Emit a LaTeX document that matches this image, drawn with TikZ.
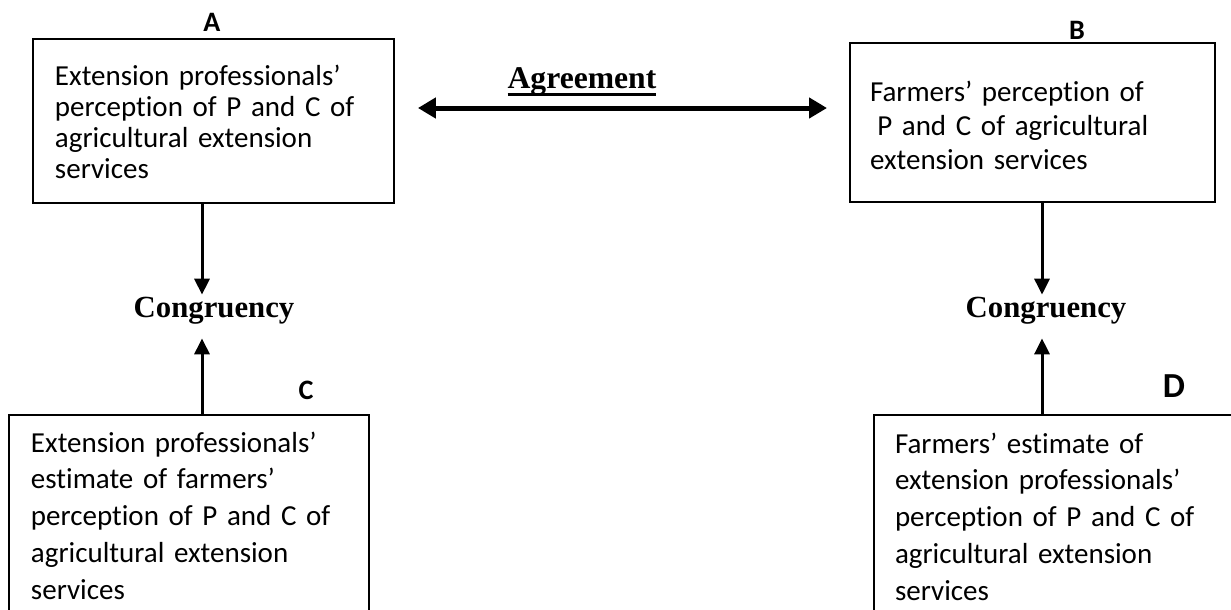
\documentclass[tikz,border=0pt]{standalone}
\usepackage{fontspec}
\setmainfont[Ligatures=NoCommon, WordSpace=0.8]{Carlito}
\newfontfamily\timesfont{Liberation Serif}
\usetikzlibrary{arrows.meta}
\newcommand{\thickul}[1]{\setbox0\hbox{#1}\rlap{\rule[-0.16cm]{\wd0}{0.065cm}}\box0}

\begin{document}
\begin{tikzpicture}[x=0.02cm, y=-0.02cm,
    box/.style={draw, line width=0.026cm, anchor=north west, align=left,
      inner xsep=0.44cm, inner ysep=0pt, outer sep=0pt},
    boxlabel/.style={font=\fontsize{16}{19}\selectfont\bfseries},
    congr/.style={font=\timesfont\fontsize{17.5}{21}\selectfont\bfseries,
      anchor=base, inner sep=0pt, text height=0.44cm, text depth=0.42cm},
    vArrow/.style={-{Triangle[length=0.32cm, width=0.3cm]}, line width=0.06cm},
    hArrow/.style={{Triangle[length=0.36cm, width=0.4cm]}-{Triangle[length=0.36cm, width=0.4cm]},
      line width=0.1cm}]

				% page
				\useasboundingbox (0,0) rectangle (1231,609);

				% draw boxes
				\node[box, text width=6.34cm, text height=0.94cm, text depth=2.34cm,
				  font=\fontsize{16.5}{17.6}\selectfont] (boxA) at (33,39)
				  {Extension professionals’\\perception of P and C of\\agricultural extension\\services};
				\node[box, inner xsep=0.4cm, text width=6.5cm, text height=1.18cm, text depth=2cm,
				  font=\fontsize{16.5}{19.3}\selectfont] (boxB) at (850,43)
				  {Farmers’ perception of\\\hspace*{0.25em}P and C of agricultural\\extension services};
				\node[box, text width=6.32cm, text height=0.74cm, text depth=6cm,
				  font=\fontsize{16.5}{21}\selectfont] (boxC) at (9,415)
				  {Extension professionals’\\estimate of farmers’\\perception of P and C of\\agricultural extension\\services};
				\node[box, inner xsep=0.42cm, text width=6.36cm, text height=0.76cm, text depth=6cm,
				  font=\fontsize{16.5}{21}\selectfont] (boxD) at (874,415)
				  {Farmers’ estimate of\\extension professionals’\\perception of P and C of\\agricultural extension\\services};

				% draw box labels
				\node[boxlabel] (labA) at (212,22) {A};
				\node[boxlabel] (labB) at (1077,30) {B};
				\node[boxlabel] (labC) at (306,390) {C};
				\node[boxlabel, font=\fontsize{20}{24}\selectfont\bfseries] (labD) at (1174,386) {D};

				% draw congruency
				\node[congr] (congL) at (214,317) {Congruency};
				\node[congr] (congR) at (1046,317) {Congruency};
				\draw[vArrow] (boxA.south -| 202,0) -- (congL.north -| 202,0);
				\draw[vArrow] (boxC.north -| 202,0) -- (congL.south -| 202,0);
				\draw[vArrow] (boxB.south -| 1042,0) -- (congR.north -| 1042,0);
				\draw[vArrow] (boxD.north -| 1042,0) -- (congR.south -| 1042,0);

				% draw agreement
				\node[anchor=base, inner sep=0pt, font=\timesfont\fontsize{18}{21}\selectfont\bfseries]
				  (agree) at (582,88) {\thickul{Agreement}};
				\coordinate (agreeY) at (622,108);
				\draw[hArrow, shorten <=0.48cm, shorten >=0.46cm] (boxA.east |- agreeY) -- (boxB.west |- agreeY);
			\end{tikzpicture}
\end{document}
